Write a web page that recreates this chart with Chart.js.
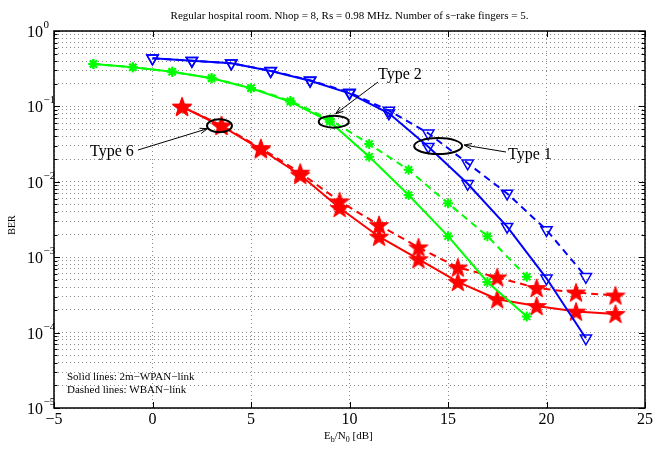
<!DOCTYPE html>
<html>
<head>
<meta charset="utf-8">
<script src="https://cdn.jsdelivr.net/npm/chart.js@4/dist/chart.umd.min.js"></script>
<style>
  html, body { margin: 0; padding: 0; background: #fff; }
  #wrap { width: 655px; height: 449px; }
</style>
</head>
<body>
<div id="wrap"><canvas id="berChart" width="655" height="449"></canvas></div>
<script>
// Eb/N0 values (dB) per curve type
const ebnoType1 = [0, 2, 4, 6, 8, 10, 12, 14, 16, 18, 20, 22];
const ebnoType2 = [-3, -1, 1, 3, 5, 7, 9, 11, 13, 15, 17, 19];
const ebnoType6 = [1.5, 3.5, 5.5, 7.5, 9.5, 11.5, 13.5, 15.5, 17.5, 19.5, 21.5, 23.5];

// BER, solid = 2m-WPAN-link, dashed = WBAN-link
const berType1Wpan = [0.434, 0.404, 0.373, 0.295, 0.219, 0.149, 0.081, 0.0292, 0.0094, 0.00254, 0.000525, 0.000084];
const berType1Wban = [0.434, 0.404, 0.373, 0.297, 0.222, 0.153, 0.088, 0.044, 0.0176, 0.0070, 0.0023, 0.00055];
const berType2Wpan = [0.365, 0.33, 0.288, 0.236, 0.174, 0.115, 0.0627, 0.0215, 0.00668, 0.0019, 0.00047, 0.000163];
const berType2Wban = [0.365, 0.33, 0.288, 0.237, 0.176, 0.118, 0.067, 0.0317, 0.0144, 0.0052, 0.0019, 0.00055];
const berType6Wpan = [0.099, 0.055, 0.027, 0.0123, 0.0045, 0.00187, 0.00094, 0.00047, 0.000277, 0.000225, 0.00019, 0.000177];
const berType6Wban = [0.099, 0.056, 0.028, 0.0132, 0.0055, 0.00267, 0.00135, 0.00073, 0.00054, 0.00039, 0.00034, 0.00031];

const xTicks = [-5, 0, 5, 10, 15, 20, 25];
const yExponents = [0, -1, -2, -3, -4, -5];

const SERIF = '"Liberation Serif", "DejaVu Serif", serif';

function pts(xs, ys) {
  return xs.map((x, i) => ({ x: x, y: ys[i] }));
}

// filled five-pointed star marker (MATLAB pentagram)
function makePentagram(color) {
  const c = document.createElement('canvas');
  c.width = 22; c.height = 22;
  const g = c.getContext('2d');
  const R = 10, r = 4;
  g.beginPath();
  for (let i = 0; i < 10; i++) {
    const a = -Math.PI / 2 + i * Math.PI / 5;
    const rad = i % 2 === 0 ? R : r;
    const px = 11 + rad * Math.cos(a), py = 11.8 + rad * Math.sin(a);
    if (i === 0) g.moveTo(px, py); else g.lineTo(px, py);
  }
  g.closePath();
  g.fillStyle = color;
  g.fill();
  g.strokeStyle = color;
  g.lineWidth = 1;
  g.stroke();
  return c;
}
const redStar = makePentagram('#ff0000');

function series(label, xs, ys, color, dashed, marker) {
  const ds = {
    label: label,
    data: pts(xs, ys),
    borderColor: color,
    backgroundColor: 'rgba(0,0,0,0)',
    borderWidth: 2,
    borderDash: dashed ? [7, 5] : [],
    pointBorderWidth: 1.5,
    pointBorderColor: color,
    pointBackgroundColor: 'rgba(0,0,0,0)',
    tension: 0,
    clip: false
  };
  if (marker === 'tri') {
    ds.pointStyle = 'triangle';
    ds.pointRotation = 180;
    ds.pointRadius = 6.5;
  } else if (marker === 'ast') {
    ds.pointStyle = 'star';
    ds.pointRadius = 5;
    ds.pointBorderWidth = 2;
  } else {
    ds.pointStyle = redStar;
  }
  return ds;
}

// annotation ellipses and arrows, anchored in data coordinates
const notes = [
  { text: 'Type 6', cx: 3.4, cy: 0.0555, rx: 12.5, ry: 6.5, tipDx: -12, tipDy: 3, tail: [138, 150], tx: 90, ty: 152 },
  { text: 'Type 2', cx: 9.2, cy: 0.0627, rx: 15, ry: 6, tipDx: 2, tipDy: -8, tail: [378, 82], tx: 378, ty: 75 },
  { text: 'Type 1', cx: 14.5, cy: 0.0298, rx: 24, ry: 8, tipDx: 26, tipDy: -1, tail: [506, 152], tx: 508, ty: 155 }
];

const decorPlugin = {
  id: 'decor',
  afterDraw(chart) {
    const ctx = chart.ctx;
    const xs = chart.scales.x, ys = chart.scales.y;
    const a = chart.chartArea;
    ctx.save();

    // inward tick marks
    ctx.strokeStyle = '#000';
    ctx.lineWidth = 1;
    ys.ticks.forEach(t => {
      const py = Math.round(ys.getPixelForValue(t.value)) + 0.5;
      const len = t.major ? 6 : 3.5;
      ctx.beginPath();
      ctx.moveTo(a.left, py); ctx.lineTo(a.left + len, py);
      ctx.moveTo(a.right, py); ctx.lineTo(a.right - len, py);
      ctx.stroke();
    });
    xTicks.forEach(v => {
      const px = Math.round(xs.getPixelForValue(v)) + 0.5;
      ctx.beginPath();
      ctx.moveTo(px, a.bottom); ctx.lineTo(px, a.bottom - 6);
      ctx.moveTo(px, a.top); ctx.lineTo(px, a.top + 6);
      ctx.stroke();
    });

    // frame
    ctx.lineWidth = 1.5;
    ctx.strokeRect(a.left, a.top, a.right - a.left, a.bottom - a.top);

    // y tick labels 10^e
    ctx.fillStyle = '#000';
    yExponents.forEach(e => {
      const py = ys.getPixelForValue(Math.pow(10, e));
      ctx.font = '16px ' + SERIF;
      ctx.textAlign = 'right';
      ctx.textBaseline = 'alphabetic';
      ctx.fillText('10', 43, py + 6);
      ctx.font = '11px ' + SERIF;
      ctx.textAlign = 'left';
      ctx.fillText(e === 0 ? '0' : '\u2212' + Math.abs(e), 43.5, py - 3);
    });

    // title
    ctx.font = '11px ' + SERIF;
    ctx.textAlign = 'center';
    ctx.fillText('Regular hospital room. Nhop = 8, Rs = 0.98 MHz. Number of s\u2212rake fingers = 5.', (a.left + a.right) / 2, 19);

    // y axis title
    ctx.save();
    ctx.translate(15, 225);
    ctx.rotate(-Math.PI / 2);
    ctx.font = '10px ' + SERIF;
    ctx.textAlign = 'center';
    ctx.fillText('BER', 0, 0);
    ctx.restore();

    // x axis title E_b/N_0 [dB]
    const xl = 324, bl = 439;
    ctx.textAlign = 'left';
    let cx = xl;
    const parts = [['E', 11, 0], ['b', 8, 3], ['/N', 11, 0], ['0', 8, 3], [' [dB]', 11, 0]];
    parts.forEach(p => {
      ctx.font = p[1] + 'px ' + SERIF;
      ctx.fillText(p[0], cx, bl + p[2]);
      cx += ctx.measureText(p[0]).width;
    });

    // line style note
    ctx.font = '11px ' + SERIF;
    ctx.fillText('Solid lines: 2m\u2212WPAN\u2212link', 67, 380);
    ctx.fillText('Dashed lines: WBAN\u2212link', 67, 393);

    // annotations
    notes.forEach(n => {
      const ex = xs.getPixelForValue(n.cx), ey = ys.getPixelForValue(n.cy);
      ctx.strokeStyle = '#000';
      ctx.lineWidth = 2;
      ctx.beginPath();
      ctx.ellipse(ex, ey, n.rx, n.ry, 0, 0, Math.PI * 2);
      ctx.stroke();
      const tipX = ex + n.tipDx, tipY = ey + n.tipDy;
      ctx.lineWidth = 1;
      ctx.beginPath();
      ctx.moveTo(n.tail[0], n.tail[1]);
      ctx.lineTo(tipX, tipY);
      ctx.stroke();
      const ang = Math.atan2(tipY - n.tail[1], tipX - n.tail[0]);
      const hl = 8, hw = 0.35;
      ctx.beginPath();
      ctx.moveTo(tipX - hl * Math.cos(ang - hw), tipY - hl * Math.sin(ang - hw));
      ctx.lineTo(tipX, tipY);
      ctx.lineTo(tipX - hl * Math.cos(ang + hw), tipY - hl * Math.sin(ang + hw));
      ctx.stroke();
      ctx.font = '16px ' + SERIF;
      ctx.textAlign = 'left';
      ctx.textBaseline = 'middle';
      ctx.fillText(n.text, n.tx, n.ty);
      ctx.textBaseline = 'alphabetic';
    });

    ctx.restore();
  }
};

function renderBerChart() {
  const ctx = document.getElementById('berChart');
  if (!ctx) return;
  new Chart(ctx, {
    type: 'line',
    data: {
      datasets: [
        series('Type 1, 2m-WPAN', ebnoType1, berType1Wpan, '#0000ff', false, 'tri'),
        series('Type 1, WBAN', ebnoType1, berType1Wban, '#0000ff', true, 'tri'),
        series('Type 2, 2m-WPAN', ebnoType2, berType2Wpan, '#00ff00', false, 'ast'),
        series('Type 2, WBAN', ebnoType2, berType2Wban, '#00ff00', true, 'ast'),
        series('Type 6, 2m-WPAN', ebnoType6, berType6Wpan, '#ff0000', false, 'star5'),
        series('Type 6, WBAN', ebnoType6, berType6Wban, '#ff0000', true, 'star5')
      ]
    },
    options: {
      responsive: false,
      animation: false,
      layout: { padding: { top: 31, right: 9, left: 0, bottom: 0 } },
      plugins: {
        legend: { display: false },
        tooltip: { enabled: false }
      },
      scales: {
        x: {
          type: 'linear',
          min: -5,
          max: 25,
          afterBuildTicks: s => { s.ticks = xTicks.map(v => ({ value: v })); },
          afterFit: s => { s.height = 41; },
          ticks: {
            color: '#000',
            font: { family: SERIF, size: 16 },
            padding: 2,
            maxRotation: 0,
            callback: v => String(v).replace('-', '\u2212')
          },
          grid: { color: '#8c8c8c', lineWidth: 1, drawTicks: false },
          border: { display: false, dash: [1, 3] }
        },
        y: {
          type: 'logarithmic',
          min: 1e-5,
          max: 1,
          afterBuildTicks: s => {
            const t = [];
            yExponents.slice().reverse().forEach(e => {
              for (let m = 1; m <= 9; m++) {
                const v = m * Math.pow(10, e);
                if (v <= 1.0000001) t.push({ value: v, major: m === 1 });
                if (e === 0) break;
              }
            });
            s.ticks = t;
          },
          afterFit: s => { s.width = 54; },
          ticks: { display: false },
          grid: { color: '#8c8c8c', lineWidth: 1, drawTicks: false },
          border: { display: false, dash: [1, 3] }
        }
      }
    },
    plugins: [decorPlugin]
  });
}

renderBerChart();
</script>
</body>
</html>
